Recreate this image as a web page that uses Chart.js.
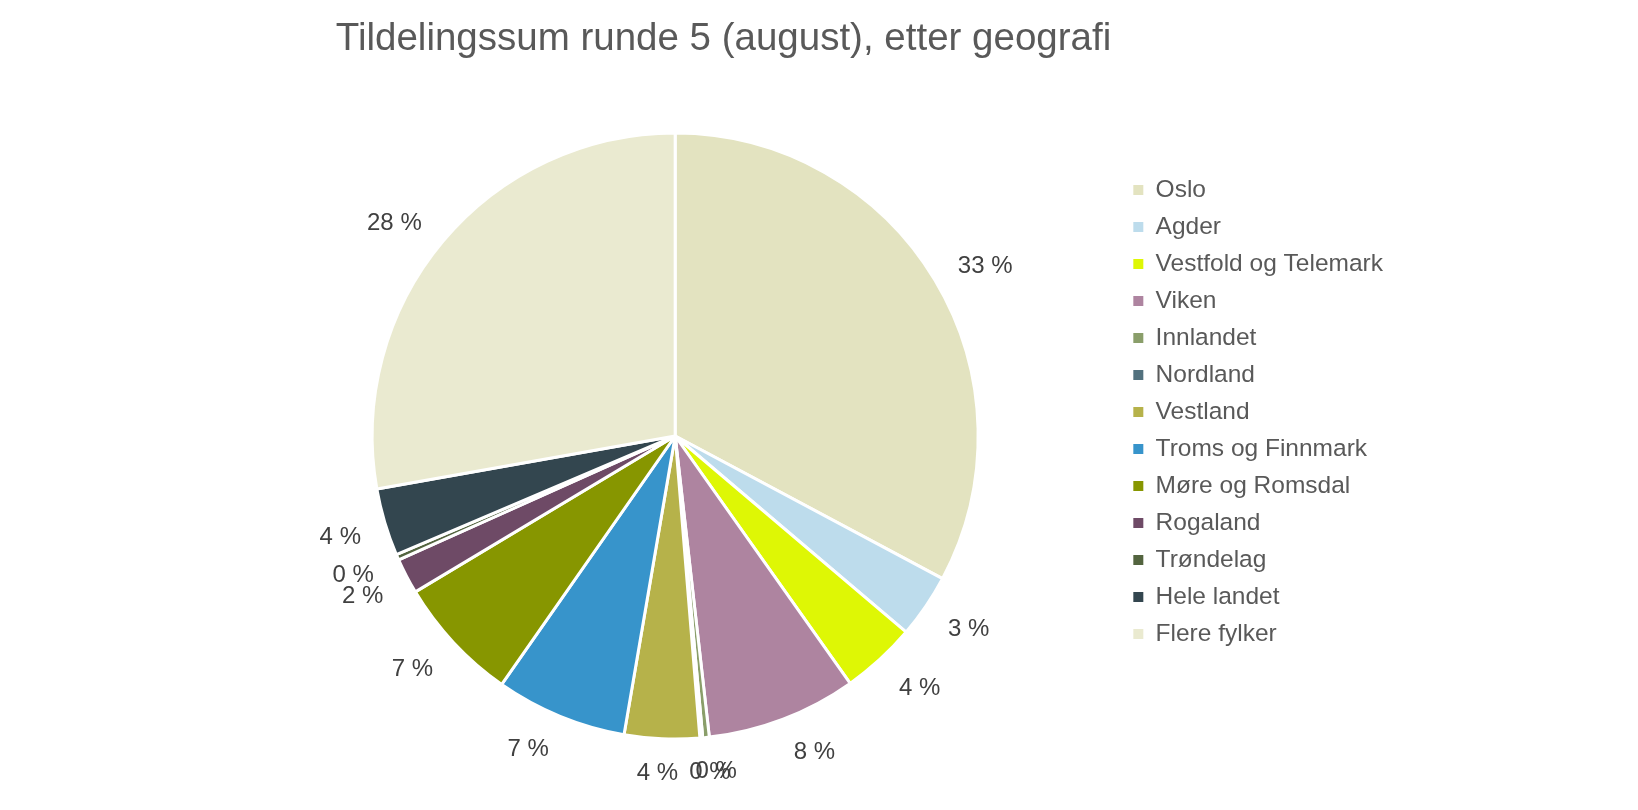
<!DOCTYPE html>
<html>
<head>
<meta charset="utf-8">
<title>Tildelingssum runde 5</title>
<script src="https://cdn.jsdelivr.net/npm/chart.js@4.4.1/dist/chart.umd.min.js"></script>
<style>
  html, body { margin: 0; padding: 0; background: #fff; }
  #wrap { width: 1638px; height: 810px; position: relative; }
</style>
</head>
<body>
<div id="wrap"><canvas id="pieChart"></canvas></div>
<script>
const chartTitle = 'Tildelingssum runde 5 (august), etter geografi';
const regions = ['Oslo', 'Agder', 'Vestfold og Telemark', 'Viken', 'Innlandet', 'Nordland', 'Vestland',
    'Troms og Finnmark', 'Møre og Romsdal', 'Rogaland', 'Trøndelag', 'Hele landet', 'Flere fylker'];
const shares = [32.8, 3.4, 4.0, 8.0, 0.35, 0.15, 4.0, 7.0, 6.7, 1.9, 0.3, 3.6, 27.8];
const sliceColors = ['#e3e3c0', '#bddcec', '#def705', '#ae84a0', '#8a9e6a', '#52717e', '#b6b24a',
    '#3794cb', '#879600', '#6e4a66', '#53643f', '#33464f', '#eaead0'];

const FONT = '"Liberation Sans", Arial, sans-serif';

// tittelen står ikke midt over kaka, så den tegnes her
const titlePlugin = {
    id: 'titleText',
    afterDraw(chart) {
        const ctx = chart.ctx;
        ctx.save();
        ctx.font = '38.5px ' + FONT;
        ctx.fillStyle = '#595959';
        ctx.textAlign = 'center';
        ctx.textBaseline = 'alphabetic';
        ctx.fillText(chartTitle, 723.5, 50);
        ctx.restore();
    }
};

// prosent-etiketter utenfor hver bit (omtrent som Excel "utenfor ende")
const pctLabels = {
    id: 'pctLabels',
    afterDatasetsDraw(chart) {
        const ctx = chart.ctx;
        const data = chart.data.datasets[0].data;
        const total = data.reduce((a, b) => a + b, 0);
        ctx.save();
        ctx.font = '24px ' + FONT;
        ctx.fillStyle = '#404040';
        ctx.textAlign = 'center';
        ctx.textBaseline = 'middle';
        chart.getDatasetMeta(0).data.forEach((arc, i) => {
            const p = arc.getProps(['x', 'y', 'startAngle', 'endAngle', 'outerRadius'], true);
            const mid = (p.startAngle + p.endAngle) / 2;
            const txt = Math.round(data[i] / total * 100) + ' %';
            const w = ctx.measureText(txt).width;
            const dx = Math.cos(mid), dy = Math.sin(mid);
            const d = p.outerRadius + 22.5 + 8 * Math.abs(dy);
            const side = Math.max(-1, Math.min(1, dx / 0.3));
            // nedre halvdel: teksten litt lenger ned
            let drop = dy > 0 ? 8 * Math.min(1, dy / 0.25) : 0;
            if (dy > 0.75) drop -= 4 * (dy - 0.75) / 0.25;
            ctx.fillText(txt, p.x + dx * d + side * w / 2, p.y + dy * d + drop);
        });
        ctx.restore();
    }
};

// legenden sitter litt høyere enn midten av kaka
const legendShift = {
    id: 'legendShift',
    afterLayout(chart) {
        chart.legend.top -= 24;
        chart.legend.bottom -= 24;
    }
};

new Chart(document.getElementById('pieChart').getContext('2d'), {
    type: 'pie',
    data: {
        labels: regions,
        datasets: [{
            data: shares,
            backgroundColor: sliceColors,
            borderColor: '#ffffff',
            borderWidth: 3
        }]
    },
    options: {
        responsive: true,
        maintainAspectRatio: false,
        animation: false,
        layout: { padding: { top: 131.5, bottom: 69.5, left: 229.5, right: 245 } },
        plugins: {
            tooltip: { enabled: false },
            legend: {
                position: 'right',
                align: 'center',
                labels: {
                    boxWidth: 10,
                    boxHeight: 10,
                    padding: 12.5,
                    color: '#595959',
                    font: { family: FONT, size: 24.5 },
                    // ingen hvit kant rundt fargeboksene
                    generateLabels(chart) {
                        const items = Chart.overrides.doughnut.plugins.legend.labels.generateLabels(chart);
                        items.forEach(it => { it.lineWidth = 0; });
                        return items;
                    }
                }
            }
        }
    },
    plugins: [titlePlugin, pctLabels, legendShift]
});
</script>
</body>
</html>
